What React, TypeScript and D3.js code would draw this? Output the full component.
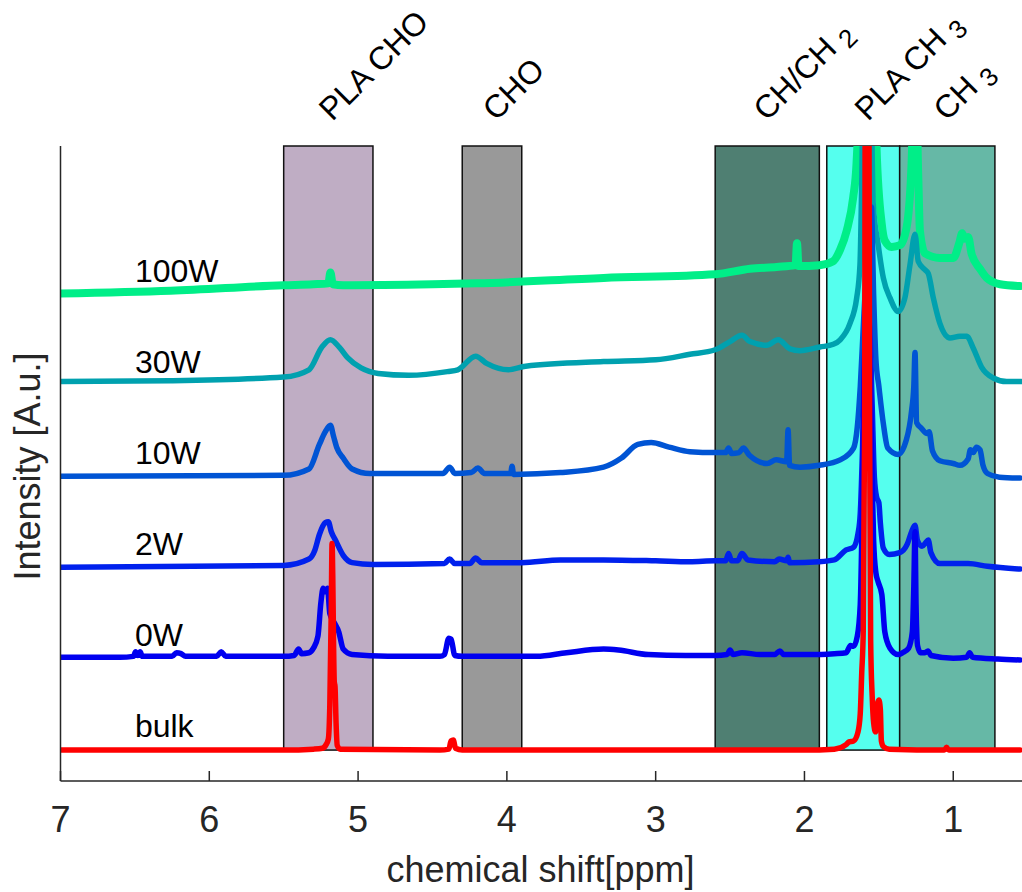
import React from 'react';
import * as d3 from 'd3';

// ---------- data ----------
const ppmTicks = [7, 6, 5, 4, 3, 2, 1];
const seriesNames = ['100W', '30W', '10W', '2W', '0W', 'bulk'];
const seriesOffsets = [5, 4, 3, 2, 1, 0];

// [ppm, intensity above own baseline]
const s100W: [number, number][] = [
  [7.0, 0.02], [6.26, 0.05], [5.5, 0.11], [5.3, 0.12], [5.2, 0.13], [5.186, 0.25], [5.17, 0.12], [5.1, 0.11],
  [4.5, 0.12], [4.2, 0.13], [3.35, 0.19], [2.6, 0.23], [2.366, 0.29], [2.187, 0.31], [2.06, 0.33], [2.05, 0.57],
  [2.04, 0.32], [1.9, 0.33], [1.81, 0.37], [1.76, 0.5], [1.716, 0.71], [1.672, 1.08], [1.65, 1.45], [1.63, 2.5],
  [1.6, 8], [1.55, 8], [1.525, 2.5], [1.515, 1.6], [1.481, 0.79], [1.46, 0.6], [1.414, 0.53], [1.358, 0.55],
  [1.313, 0.75], [1.28, 1.45], [1.265, 2.2], [1.25, 2.2], [1.235, 1.3], [1.224, 0.71], [1.19, 0.46], [1.09, 0.41],
  [1.0, 0.41], [0.96, 0.57], [0.94, 0.68], [0.925, 0.62], [0.9, 0.64], [0.876, 0.45], [0.82, 0.29], [0.775, 0.19],
  [0.686, 0.12], [0.552, 0.1],
];
const s30W: [number, number][] = [
  [7.0, 0.05], [6.26, 0.06], [5.5, 0.1], [5.33, 0.18], [5.243, 0.43], [5.186, 0.51], [5.127, 0.43], [5.069, 0.31],
  [4.98, 0.2], [4.865, 0.14], [4.66, 0.12], [4.4, 0.16], [4.33, 0.18], [4.21, 0.33], [4.136, 0.25], [3.99, 0.18],
  [3.874, 0.22], [3.35, 0.27], [3.0, 0.29], [2.77, 0.35], [2.6, 0.4], [2.5, 0.49], [2.42, 0.56],
  [2.366, 0.49], [2.254, 0.45], [2.176, 0.51], [2.097, 0.41], [2.03, 0.39], [1.896, 0.43], [1.806, 0.46],
  [1.76, 0.51], [1.694, 0.69], [1.649, 0.97], [1.627, 1.33], [1.615, 2.25], [1.6, 4], [1.575, 8], [1.555, 4],
  [1.538, 2.01], [1.504, 1.55], [1.47, 1.19], [1.425, 0.97], [1.37, 0.82], [1.325, 0.97], [1.291, 1.33],
  [1.257, 1.67], [1.235, 1.37], [1.19, 1.28], [1.168, 1.24], [1.134, 0.97], [1.09, 0.69], [1.022, 0.53],
  [0.955, 0.55], [0.91, 0.55], [0.866, 0.42], [0.81, 0.21], [0.731, 0.09], [0.641, 0.05], [0.54, 0.05],
];
const s10W: [number, number][] = [
  [7.0, 0.01], [5.5, 0.02], [5.33, 0.09], [5.26, 0.36], [5.22, 0.5], [5.186, 0.57], [5.165, 0.45], [5.142, 0.32],
  [5.1, 0.21], [5.04, 0.09], [4.92, 0.04], [4.43, 0.04], [4.384, 0.11], [4.35, 0.04], [4.24, 0.05], [4.195, 0.1],
  [4.15, 0.04], [3.975, 0.04], [3.965, 0.12], [3.955, 0.03], [3.64, 0.05], [3.35, 0.11], [3.23, 0.21],
  [3.12, 0.36], [3.03, 0.38], [2.91, 0.33], [2.77, 0.28], [2.6, 0.27], [2.53, 0.27], [2.51, 0.32], [2.49, 0.26],
  [2.44, 0.27], [2.41, 0.32], [2.37, 0.24], [2.25, 0.15], [2.19, 0.19], [2.12, 0.17], [2.11, 0.52], [2.1, 0.13],
  [2.03, 0.11], [1.9, 0.13], [1.76, 0.19], [1.67, 0.32], [1.645, 0.55], [1.625, 0.99], [1.6, 1.8], [1.57, 2.6],
  [1.55, 2.97], [1.535, 2.0], [1.52, 1.3], [1.5, 1.0], [1.47, 0.59], [1.44, 0.32], [1.37, 0.25], [1.315, 0.41],
  [1.28, 0.73], [1.265, 1.0], [1.257, 1.37], [1.246, 0.6], [1.215, 0.54], [1.175, 0.48], [1.162, 0.5],
  [1.14, 0.29], [1.09, 0.18], [1.0, 0.15], [0.955, 0.13], [0.9, 0.2], [0.885, 0.3], [0.865, 0.27], [0.845, 0.33],
  [0.82, 0.3], [0.8, 0.13], [0.77, 0.04], [0.69, 0.0], [0.55, -0.01],
];
const s2W: [number, number][] = [
  [7.0, 0.01], [5.5, 0.03], [5.33, 0.1], [5.29, 0.2], [5.26, 0.37], [5.22, 0.5], [5.2, 0.51], [5.18, 0.4],
  [5.15, 0.3], [5.1, 0.14], [5.04, 0.06], [4.9, 0.04], [4.42, 0.05], [4.385, 0.1], [4.35, 0.05], [4.25, 0.05],
  [4.21, 0.11], [4.17, 0.06], [3.9, 0.06], [3.64, 0.09], [3.35, 0.09], [3.0, 0.08], [2.77, 0.07], [2.6, 0.08],
  [2.53, 0.08], [2.51, 0.16], [2.49, 0.08], [2.45, 0.08], [2.42, 0.16], [2.38, 0.09], [2.2, 0.07], [2.17, 0.1],
  [2.12, 0.08], [2.11, 0.12], [2.1, 0.06], [1.9, 0.07], [1.8, 0.09], [1.72, 0.2], [1.67, 0.23], [1.64, 0.38],
  [1.625, 0.6], [1.61, 1.3], [1.595, 2.3], [1.575, 2.8], [1.56, 2.6], [1.545, 1.8], [1.53, 1.0], [1.515, 0.78],
  [1.5, 0.72], [1.49, 0.5], [1.47, 0.22], [1.43, 0.15], [1.36, 0.17], [1.31, 0.26], [1.28, 0.4], [1.257, 0.47],
  [1.24, 0.3], [1.21, 0.24], [1.185, 0.28], [1.168, 0.31], [1.15, 0.17], [1.09, 0.05], [0.9, 0.05],
  [0.77, 0.02], [0.55, -0.01],
];
const s0W: [number, number][] = [
  [7.0, 0.02], [6.6, 0.02], [6.51, 0.03], [6.495, 0.08], [6.48, 0.04], [6.465, 0.08], [6.45, 0.03],
  [6.25, 0.03], [6.22, 0.07], [6.19, 0.06], [6.16, 0.03], [5.95, 0.03], [5.92, 0.08], [5.89, 0.03],
  [5.5, 0.03], [5.43, 0.04], [5.4, 0.11], [5.38, 0.06], [5.33, 0.07], [5.3, 0.12], [5.27, 0.25], [5.25, 0.62],
  [5.235, 0.78], [5.22, 0.74], [5.205, 0.78], [5.19, 0.5], [5.16, 0.4], [5.13, 0.3], [5.1, 0.11], [5.04, 0.05],
  [4.8, 0.03], [4.45, 0.03], [4.42, 0.05], [4.39, 0.23], [4.375, 0.22], [4.35, 0.04], [4.3, 0.03], [3.8, 0.03],
  [3.6, 0.07], [3.35, 0.11], [3.25, 0.1], [3.05, 0.05], [2.8, 0.04], [2.6, 0.04], [2.52, 0.05], [2.5, 0.1],
  [2.48, 0.05], [2.42, 0.07], [2.3, 0.05], [2.2, 0.05], [2.165, 0.09], [2.14, 0.05], [1.96, 0.05], [1.8, 0.06],
  [1.72, 0.07], [1.69, 0.15], [1.67, 0.14], [1.645, 0.25], [1.625, 0.6], [1.612, 1.6], [1.6, 3.0],
  [1.585, 3.8], [1.57, 3.6], [1.555, 2.8], [1.545, 2.0], [1.535, 1.3], [1.52, 0.95], [1.505, 0.85],
  [1.48, 0.71], [1.46, 0.3], [1.425, 0.12], [1.37, 0.05], [1.34, 0.07], [1.3, 0.12], [1.275, 0.3],
  [1.265, 0.8], [1.257, 1.4], [1.25, 0.6], [1.24, 0.15], [1.22, 0.07], [1.19, 0.07], [1.17, 0.09],
  [1.15, 0.04], [1.0, 0.01], [0.91, 0.02], [0.89, 0.07], [0.87, 0.02], [0.7, 0.0], [0.55, -0.01],
];
const sBulk: [number, number][] = [
  [7.0, 0], [6.0, 0.0], [5.5, 0.0], [5.3, 0.01], [5.24, 0.02], [5.215, 0.06], [5.2, 0.12], [5.19, 0.5],
  [5.18, 1.6], [5.175, 2.27], [5.17, 1.9], [5.165, 1.2], [5.16, 0.75], [5.155, 0.7], [5.148, 0.3],
  [5.14, 0.05], [5.12, 0.01], [4.45, 0.0], [4.39, 0.01], [4.375, 0.1], [4.36, 0.11], [4.345, 0.02],
  [4.3, 0], [3.0, 0], [2.0, 0.0], [1.8, 0.01], [1.72, 0.06], [1.7, 0.09], [1.67, 0.1], [1.64, 0.2],
  [1.625, 0.4], [1.615, 0.85], [1.605, 1.3], [1.596, 3.5], [1.59, 8], [1.568, 8], [1.562, 3.5], [1.555, 1.2],
  [1.545, 0.6], [1.535, 0.3], [1.522, 0.2], [1.51, 0.5], [1.5, 0.55], [1.49, 0.45], [1.483, 0.1],
  [1.47, 0.04], [1.43, 0.01], [1.06, 0.0], [1.045, 0.03], [1.03, 0.0], [0.55, 0],
];
const seriesData = [s100W, s30W, s10W, s2W, s0W, sBulk];

// shaded regions [from ppm, to ppm]
const regionNames = ['PLA CHO', 'CHO', 'CH/CH', 'PLA CH', 'CH'];
const regionSubs = ['', '', '2', '3', '3'];
const regionFrom = [5.5, 4.3, 2.6, 1.85, 1.36];
const regionTo = [4.9, 3.9, 1.9, 1.36, 0.72];
const regionLabelPpm = [5.2, 4.1, 2.28, 1.6, 1.07];

// ---------- styles ----------
const seriesColors = ['#00ee88', '#00a1af', '#0054d4', '#0021ed', '#0000f0', '#ff0000'];
const seriesWidths = [8, 5.5, 5.5, 5.5, 5.5, 5.5];
const regionColors = ['#bfadc4', '#999999', '#4f7f72', '#55ffee', '#66b8a6'];

const W = 1022;
const H = 892;
const FONT = '"Liberation Sans", Arial, Helvetica, sans-serif';
const AX = '#262626';

export default function App() {
  const left = 60.5;
  const right = 1020.5;
  const top = 146;
  const bottom = 781;

  const x = d3.scaleLinear().domain([7, 0.548]).range([left, right]);
  const y = d3.scaleLinear().domain([-0.34, 6.64]).range([bottom, top]);

  const lines = seriesData.map((data, i) =>
    d3
      .line<[number, number]>()
      .x((d) => x(d[0]))
      .y((d) => y(d[1] + seriesOffsets[i]))
      .curve(d3.curveMonotoneX)(data) as string
  );

  return (
    <svg
      width={W}
      height={H}
      style={{ position: 'absolute', left: 0, top: 0, background: '#fff' }}
      fontFamily={FONT}
    >
      <defs>
        <clipPath id="plotClip">
          <rect x={left} y={top} width={W - left} height={bottom - top} />
        </clipPath>
      </defs>

      {/* shaded regions */}
      {regionFrom.map((f, i) => (
        <rect
          key={'r' + i}
          x={x(f)}
          y={top}
          width={x(regionTo[i]) - x(f)}
          height={y(0) - top}
          fill={regionColors[i]}
          stroke="#111"
          strokeWidth={1.5}
        />
      ))}

      {/* spectra */}
      <g clipPath="url(#plotClip)">
        {lines.map((p, i) => (
          <path
            key={'l' + i}
            d={p}
            fill="none"
            stroke={seriesColors[i]}
            strokeWidth={seriesWidths[i]}
            strokeLinejoin="round"
            strokeLinecap="round"
          />
        ))}
      </g>

      {/* series labels */}
      {seriesNames.map((n, i) => (
        <text key={'n' + i} x={x(6.5)} y={y(seriesOffsets[i]) - 13} fontSize={32} fill="#000">
          {n}
        </text>
      ))}

      {/* region labels */}
      {regionNames.map((n, i) => {
        const lx = x(regionLabelPpm[i]) + 4;
        const ly = top - 24;
        return (
          <text key={'a' + i} transform={`translate(${lx},${ly}) rotate(-45)`} fontSize={32} fill="#000">
            {n}
            {regionSubs[i] ? (
              <tspan dx={8} dy={7} fontSize={26}>
                {regionSubs[i]}
              </tspan>
            ) : null}
          </text>
        );
      })}

      {/* axes */}
      <line x1={left} y1={top} x2={left} y2={bottom} stroke={AX} strokeWidth={1.5} />
      <line x1={left} y1={bottom} x2={W} y2={bottom} stroke={AX} strokeWidth={1.5} />
      {ppmTicks.map((t) => (
        <g key={'t' + t}>
          <line x1={x(t)} x2={x(t)} y1={bottom} y2={bottom - 10} stroke={AX} strokeWidth={1.5} />
          <text x={x(t)} y={bottom + 51} fontSize={36} textAnchor="middle" fill={AX}>
            {t}
          </text>
        </g>
      ))}
      <text x={(left + right) / 2} y={bottom + 101} fontSize={36} textAnchor="middle" fill={AX}>
        chemical shift[ppm]
      </text>
      <text
        transform={`translate(40,${(top + bottom) / 2 + 3}) rotate(-90)`}
        fontSize={36}
        textAnchor="middle"
        fill={AX}
      >
        Intensity [A.u.]
      </text>
    </svg>
  );
}
